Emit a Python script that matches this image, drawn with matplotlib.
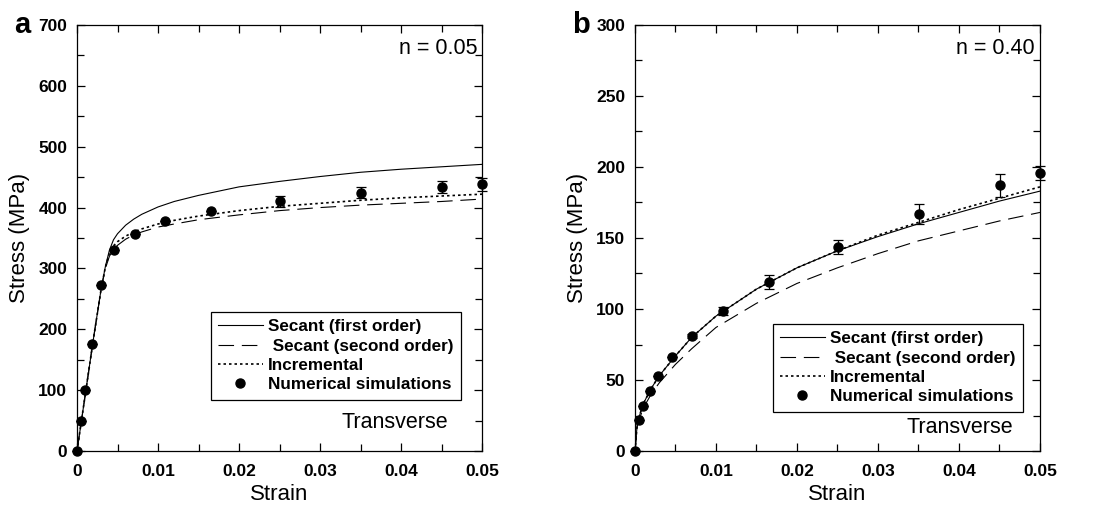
import numpy as np
import matplotlib
matplotlib.use('Agg')
import matplotlib.pyplot as plt
from matplotlib.ticker import MultipleLocator, FuncFormatter

plt.rcParams['font.family'] = ['Liberation Sans', 'DejaVu Sans']

# simulation points (shared strains)
sim_strain = [0, 0.00045, 0.001, 0.0018, 0.0029, 0.0046, 0.0071, 0.0109, 0.0165, 0.0251, 0.0351, 0.0451, 0.05]
sim_a = [0, 50, 100, 176, 273, 331, 357, 378, 394, 410, 424, 434, 438]
err_a = [0, 0, 0, 0, 0, 0, 0, 0, 0, 9, 9, 10, 10]
sim_b = [0, 22, 32, 42, 53, 66, 81, 98.5, 119, 143.5, 167, 187, 195.5]
err_b = [0, 0, 0, 0, 0, 0, 1.5, 3, 5, 5, 7, 8, 5]

# model curves, panel a (n = 0.05)
ca_strain = [0, 0.001, 0.002, 0.003, 0.0035, 0.004, 0.0045, 0.005, 0.006, 0.007, 0.008, 0.01,
             0.012, 0.015, 0.02, 0.025, 0.03, 0.035, 0.04, 0.045, 0.05]
sec1_a = [0, 91, 182, 268, 303, 330, 347, 357, 371, 381, 389, 401,
          410, 420, 434, 443, 451, 458, 463, 467, 471]
sec2_a = [0, 91, 182, 268, 300, 320, 331, 338, 348, 355, 360, 368,
          373, 380, 388, 395, 400, 404, 407, 410, 414]
incr_a = [0, 91, 182, 268, 302, 325, 337, 344, 353, 360, 365, 373,
          379, 386, 395, 402, 407, 412, 416, 419, 422]

# model curves, panel b (n = 0.40)
cb_strain = [0, 0.0003, 0.001, 0.002, 0.003, 0.005, 0.007, 0.01, 0.015, 0.02, 0.025,
             0.03, 0.035, 0.04, 0.045, 0.05]
sec1_b = [0, 20, 33, 44, 53, 67, 80, 95, 114, 129, 141, 151, 160, 168, 176, 183]
sec2_b = [0, 18, 30, 40, 48, 61, 72, 87, 104, 118, 129, 139, 148, 155, 162, 168]
incr_b = [0, 20, 33, 44, 53, 67, 80, 95, 114, 129, 141, 152, 161, 170, 178, 186]

fig = plt.figure(figsize=(10.94, 5.08), dpi=100)
ax_a = fig.add_axes([0.0704, 0.1122, 0.3702, 0.8386])
ax_b = fig.add_axes([0.5804, 0.1122, 0.3702, 0.8386])


def draw(ax, cs, s1, s2, inc, sim, err, ymax, ymaj, nlab, panel, leg_anchor, tr_pos):
    ax.plot(cs, s1, color='black', lw=0.8, label='Secant (first order)')
    ax.plot(cs, s2, color='black', lw=0.8, dashes=(14, 7), label=' Secant (second order)')
    ax.plot(cs, inc, color='black', lw=1.2, dashes=(1.5, 1.8), label='Incremental')
    ax.errorbar(sim_strain, sim, yerr=err, fmt='o', color='black', ms=6.5,
                elinewidth=0.9, capsize=3.5, capthick=0.9, label='_nolegend_',
                clip_on=False, zorder=5)
    ax.plot([], [], 'o', color='black', ms=6.5, label='Numerical simulations')
    ax.set_xlim(0, 0.05)
    ax.set_ylim(0, ymax)
    ax.xaxis.set_major_locator(MultipleLocator(0.01))
    ax.xaxis.set_minor_locator(MultipleLocator(0.005))
    ax.yaxis.set_major_locator(MultipleLocator(ymaj))
    ax.yaxis.set_minor_locator(MultipleLocator(ymaj / 2))
    ax.xaxis.set_major_formatter(FuncFormatter(
        lambda v, p: '0' if abs(v) < 1e-9 else ('%.2f' % v)))
    ax.tick_params(which='both', direction='in', top=True, right=True, width=0.9)
    ax.tick_params(which='major', length=6, labelsize=12.5)
    ax.tick_params(which='minor', length=5)
    ax.tick_params(axis='y', pad=7)
    ax.tick_params(axis='x', pad=9)
    for sp in ax.spines.values():
        sp.set_linewidth(0.9)
    ax.set_xlabel('Strain', fontsize=16, labelpad=4)
    ax.set_ylabel('Stress (MPa)', fontsize=16, labelpad=6)
    ax.text(0.988, 0.97, nlab, transform=ax.transAxes, ha='right', va='top', fontsize=15.5)
    ax.text(tr_pos[0], tr_pos[1], 'Transverse', transform=ax.transAxes, ha='right',
            va='baseline', fontsize=15.5)
    leg = ax.legend(loc='lower right', bbox_to_anchor=leg_anchor, frameon=True, fancybox=False,
                    edgecolor='black', framealpha=1, prop={'weight': 'bold', 'size': 12.3},
                    handlelength=2.6, handletextpad=0.3, labelspacing=0.25, borderpad=0.45,
                    borderaxespad=0)
    leg.get_frame().set_linewidth(0.9)
    ax.text(-0.155, 1.0, panel, transform=ax.transAxes, ha='left', va='center',
            fontsize=21, fontweight='bold')


draw(ax_a, ca_strain, sec1_a, sec2_a, incr_a, sim_a, err_a, 700, 100, 'n = 0.05', 'a',
     (0.948, 0.12), (0.916, 0.054))
draw(ax_b, cb_strain, sec1_b, sec2_b, incr_b, sim_b, err_b, 300, 50, 'n = 0.40', 'b',
     (0.958, 0.092), (0.933, 0.042))

fig.canvas.draw()
for ax in (ax_a, ax_b):
    for lab in ax.get_xticklabels() + ax.get_yticklabels():
        lab.set_fontweight('bold')

fig.savefig('out.png', dpi=100)
